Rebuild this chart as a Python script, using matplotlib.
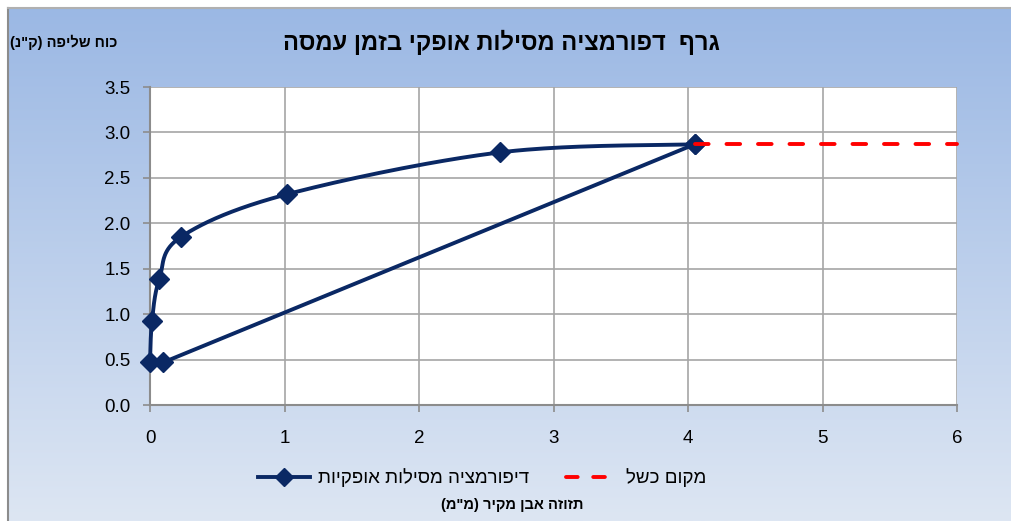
import numpy as np
import matplotlib
matplotlib.use("Agg")
import matplotlib.pyplot as plt
from matplotlib.lines import Line2D

# ---- data ----
load_x = [0.0, 0.015, 0.07, 0.23, 1.02, 2.60, 4.05]
load_y = [0.47, 0.93, 1.39, 1.85, 2.32, 2.78, 2.87]
unload_x = [4.05, 0.10]
unload_y = [2.87, 0.47]
fail_x = [4.05, 6.0]
fail_y = [2.87, 2.87]

title = 'גרף  דפורמציה מסילות אופקי בזמן עמסה'
ylabel = 'כוח שליפה (ק"נ)'
xlabel = 'תזוזה אבן מקיר (מ"מ)'
series1 = 'דיפורמציה מסילות אופקיות'
series2 = 'מקום כשל'
xticks = [0, 1, 2, 3, 4, 5, 6]
yticks = [0.0, 0.5, 1.0, 1.5, 2.0, 2.5, 3.0, 3.5]

FONT = ['Liberation Sans', 'DejaVu Sans']
plt.rcParams['font.family'] = FONT

def vis(s):
    """Convert logical RTL Hebrew string to visual LTR order."""
    mirror = {'(': ')', ')': '('}
    return ''.join(mirror.get(c, c) for c in reversed(s))

def smooth(xs, ys, n=40):
    P = np.column_stack([xs, ys]).astype(float)
    m = len(P)
    out = [P[0]]
    for i in range(m - 1):
        p0 = P[max(i - 1, 0)]
        p1 = P[i]
        p2 = P[i + 1]
        p3 = P[min(i + 2, m - 1)]
        c1 = p1 + (p2 - p0) / 6.0
        c2 = p2 - (p3 - p1) / 6.0
        t = np.linspace(0, 1, n)[1:, None]
        b = ((1 - t) ** 3) * p1 + 3 * ((1 - t) ** 2) * t * c1 + 3 * (1 - t) * t ** 2 * c2 + t ** 3 * p2
        out.extend(b)
    out = np.array(out)
    return out[:, 0], out[:, 1]

W, H = 1011, 521
fig = plt.figure(figsize=(W / 100, H / 100), dpi=100)
fig.patch.set_facecolor('white')

# background gradient
bg = fig.add_axes([8 / W, 0, 1 - 8 / W, 1 - 8 / H])
top = np.array([155, 184, 228]) / 255.0
bot = np.array([221, 230, 243]) / 255.0
g = np.linspace(0, 1, 256)[:, None]
img = top[None, None, :] * (1 - g[:, :, None]) + bot[None, None, :] * g[:, :, None]
bg.imshow(img, aspect='auto', extent=[0, 1, 0, 1], origin='upper')
bg.set_axis_off()
fig.add_artist(Line2D([7.5 / W, 7.5 / W], [0, 1 - 7.5 / H], color='#8c8c8c', lw=1.5, transform=fig.transFigure))
fig.add_artist(Line2D([7.5 / W, 1], [1 - 7.5 / H, 1 - 7.5 / H], color='#b0b0b0', lw=1.5, transform=fig.transFigure))

ax = fig.add_axes([150 / W, 1 - 405 / H, (957 - 150) / W, (405 - 87) / H])
ax.set_facecolor('white')
ax.set_xlim(0, 6)
ax.set_ylim(0, 3.5)
ax.set_xticks(xticks)
ax.set_yticks(yticks)
ax.set_xticklabels([str(v) for v in xticks])
ax.set_yticklabels(['%.1f' % v for v in yticks])
ax.grid(True, color='#a6a6a6', lw=1.2)
ax.set_axisbelow(True)
for s in ['top', 'right']:
    ax.spines[s].set_visible(False)
for s in ['left', 'bottom']:
    ax.spines[s].set_color('#8c8c8c')
    ax.spines[s].set_linewidth(1.5)
ax.tick_params(axis='both', direction='out', length=5, width=1.2, color='#8c8c8c',
               labelsize=13.5, labelcolor='black')
ax.tick_params(axis='x', pad=13)
ax.tick_params(axis='y', pad=9)

navy = '#0a2864'
LW = 2.8
MS = 10.5
sx, sy = smooth(load_x, load_y)
ax.plot(sx, sy, color=navy, lw=LW, solid_capstyle='round', zorder=3, clip_on=False)
ax.plot(load_x, load_y, ls='none', marker='D', ms=MS, color=navy, zorder=4, clip_on=False)
ax.plot(unload_x, unload_y, color=navy, lw=LW, marker='D', ms=MS, zorder=3, clip_on=False)
ax.plot(fail_x, fail_y, color='#ff0000', lw=LW, ls=(0, (3.5, 4.6)), dash_capstyle='round',
        zorder=5, clip_on=False)

fig.text(501 / W, 1 - 42 / H, vis(title), ha='center', va='center', fontsize=17, fontweight='bold')
fig.text(64 / W, 1 - 42 / H, vis(ylabel), ha='center', va='center', fontsize=10.5, fontweight='bold')
fig.text(512 / W, 1 - 505 / H, vis(xlabel), ha='center', va='center', fontsize=10.5, fontweight='bold')

h1 = Line2D([], [], color=navy, lw=LW, marker='D', ms=MS - 1)
h2 = Line2D([], [], color='#ff0000', lw=LW, ls=(0, (3.0, 4.0)), dash_capstyle='round')
fig.legend([h1, h2], [vis(series1), vis(series2)], loc='center', bbox_to_anchor=(482 / W, 1 - 478 / H),
           ncol=2, frameon=False, fontsize=13.5, handlelength=2.8, columnspacing=2.0,
           handletextpad=0.4, numpoints=1)

fig.savefig('out.png', dpi=100)
